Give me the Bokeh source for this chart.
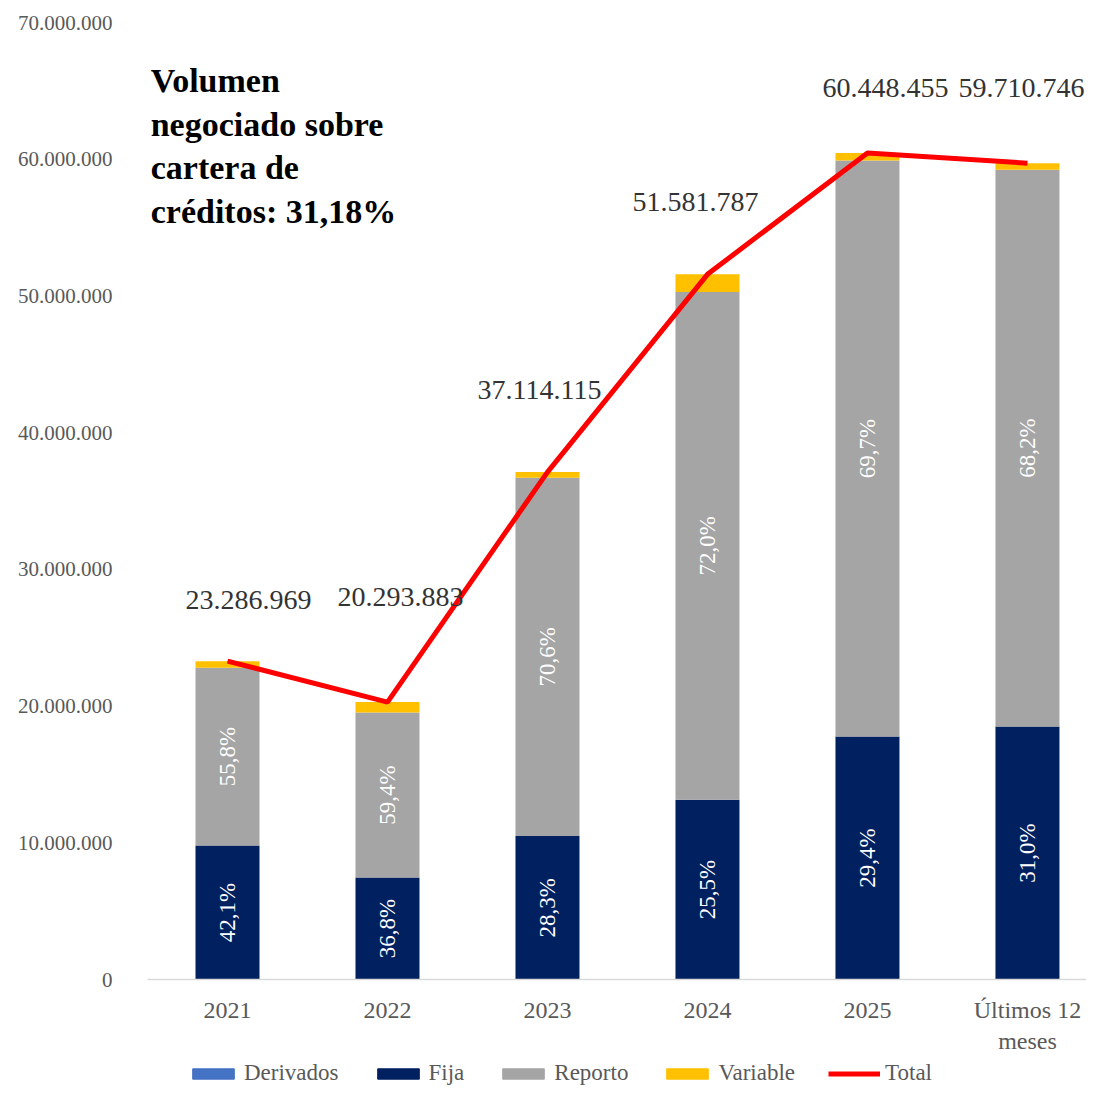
import math
from bokeh.plotting import figure
from bokeh.layouts import column
from bokeh.models import ColumnDataSource, Legend, LegendItem, Range1d, FixedTicker
from bokeh.core.properties import value
from bokeh.embed import file_html
from bokeh.resources import INLINE

# ---- data ----
categories = ["2021", "2022", "2023", "2024", "2025", "Últimos 12\nmeses"]
totals = [23286969, 20293883, 37114115, 51581787, 60448455, 59710746]
derivados = [0, 0, 0, 0, 0, 0]
fija = [9803814, 7468149, 10503295, 13153356, 17771846, 18510331]
reporto = [12994129, 12054566, 26202565, 37138887, 42132573, 40722729]
variable = [489026, 771168, 408255, 1289544, 544036, 477686]
fija_pct = ["42,1%", "36,8%", "28,3%", "25,5%", "29,4%", "31,0%"]
reporto_pct = ["55,8%", "59,4%", "70,6%", "72,0%", "69,7%", "68,2%"]
total_txt = ["23.286.969", "20.293.883", "37.114.115", "51.581.787", "60.448.455", "59.710.746"]
y_ticks = [0, 10000000, 20000000, 30000000, 40000000, 50000000, 60000000, 70000000]

# label offsets (screen px) for the total labels
lab_dx = [21, 13, -8, -12, 18, -6]
lab_dy = [-61, -105, -82, -72, -65, -75]

FONT = "Liberation Serif"
x = list(range(len(categories)))
colors = ["#4472C4", "#002060", "#A5A5A5", "#FFC000"]
series_names = ["Derivados", "Fija", "Reporto", "Variable"]

src = ColumnDataSource(dict(
    x=x, derivados=derivados, fija=fija, reporto=reporto, variable=variable,
    total=totals, total_txt=total_txt, fija_pct=fija_pct, reporto_pct=reporto_pct,
    fija_mid=[f / 2 for f in fija],
    rep_mid=[f + r / 2 for f, r in zip(fija, reporto)],
    lx=lab_dx, ly=lab_dy,
))

p = figure(width=1086, height=1056, output_backend="svg", toolbar_location=None,
           x_range=Range1d(-0.5, 5.369), y_range=Range1d(0, 70000000),
           min_border_left=147, min_border_right=0, min_border_top=22, min_border_bottom=77)
p.outline_line_color = None
p.xgrid.visible = False
p.ygrid.visible = False

rs = p.vbar_stack(["derivados", "fija", "reporto", "variable"], x="x", width=0.4,
                  source=src, color=colors, line_color=None)

r_tot = p.line(x="x", y="total", source=src, line_color="#FF0000", line_width=5)

p.text(x="x", y="fija_mid", text="fija_pct", source=src, angle=math.pi / 2,
       text_align="center", text_baseline="middle", text_color="white",
       text_font=value(FONT), text_font_size="23px")
p.text(x="x", y="rep_mid", text="reporto_pct", source=src, angle=math.pi / 2,
       text_align="center", text_baseline="middle", text_color="white",
       text_font=value(FONT), text_font_size="23px")
p.text(x="x", y="total", text="total_txt", source=src, x_offset="lx", y_offset="ly",
       text_align="center", text_baseline="middle", text_color="#333333",
       text_font=value(FONT), text_font_size="28px")

p.text(x=[-0.48], y=[67100000], text=["Volumen\nnegociado sobre\ncartera de\ncréditos: 31,18%"],
       text_align="left", text_baseline="top", text_color="black", text_font_style="bold",
       text_font=value(FONT), text_font_size="34px", text_line_height=1.18)

# axes
p.xaxis.ticker = FixedTicker(ticks=x)
p.xaxis.major_label_overrides = {i: c for i, c in zip(x, categories)}
p.xaxis.axis_line_color = "#D9D9D9"
p.xaxis.axis_line_width = 1.5
p.xaxis.major_tick_line_color = None
p.xaxis.minor_tick_line_color = None
p.xaxis.major_label_standoff = 11
p.xaxis.major_label_text_font = FONT
p.xaxis.major_label_text_font_size = "24px"
p.xaxis.major_label_text_color = "#595959"

p.yaxis.ticker = FixedTicker(ticks=y_ticks)
p.yaxis.major_label_overrides = {t: ("{:,}".format(t).replace(",", ".")) for t in y_ticks}
p.yaxis.axis_line_color = None
p.yaxis.major_tick_line_color = None
p.yaxis.minor_tick_line_color = None
p.yaxis.major_label_standoff = 29
p.yaxis.major_label_text_font = FONT
p.yaxis.major_label_text_font_size = "21px"
p.yaxis.major_label_text_color = "#595959"

# ---- legend strip ----
lg = figure(width=1086, height=30, output_backend="svg", toolbar_location=None,
            x_range=Range1d(0, 1), y_range=Range1d(0, 1),
            min_border_left=0, min_border_right=0, min_border_top=0, min_border_bottom=0)
lg.axis.visible = False
lg.grid.visible = False
lg.outline_line_color = None
items = []
for name, col in zip(series_names, colors):
    r = lg.vbar(x=[-5], top=[-5], width=0.1, color=col)
    items.append(LegendItem(label=name, renderers=[r]))
rl = lg.line(x=[-5, -4], y=[-5, -5], line_color="#FF0000", line_width=5)
items.append(LegendItem(label="Total", renderers=[rl]))
legend = Legend(items=items, orientation="horizontal", location=(40, 0),
                label_text_font=FONT, label_text_font_size="23px", label_text_color="#595959",
                glyph_width=52, glyph_height=13, label_standoff=5, spacing=33,
                border_line_color=None, background_fill_alpha=0, padding=2, margin=0)
lg.add_layout(legend, "center")

page = column(p, lg, spacing=0)
open("out.html", "w").write(file_html(page, INLINE))
